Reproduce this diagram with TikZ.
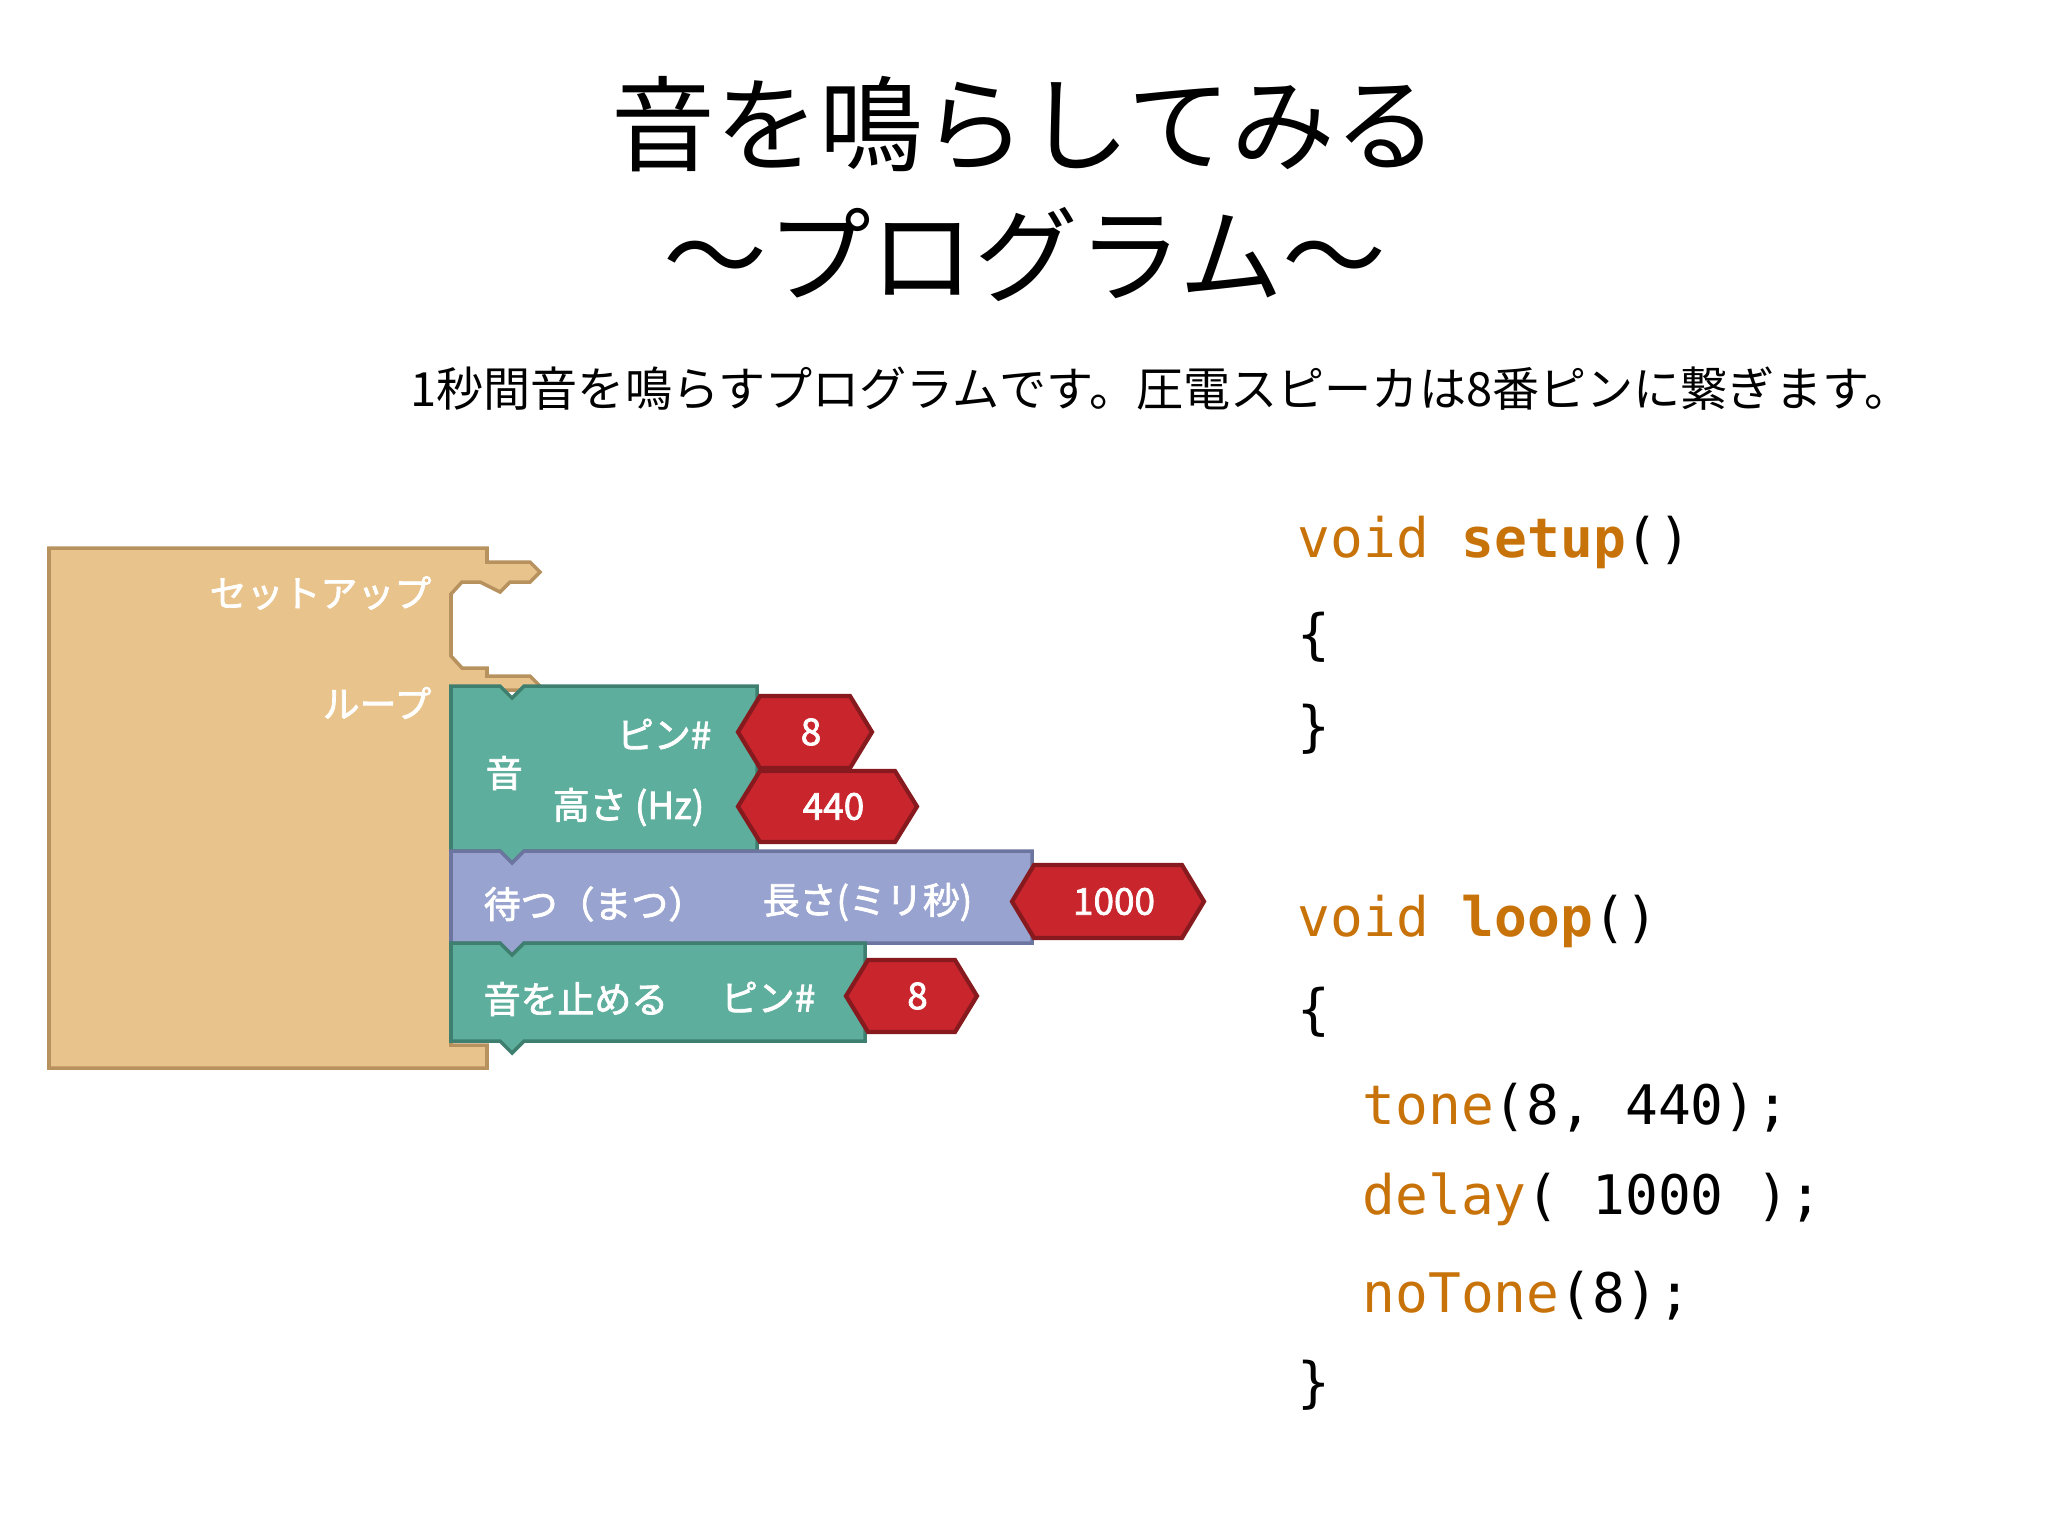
\documentclass[tikz,border=0pt]{standalone}
\usepackage{fontspec}
\setmainfont{Noto Sans CJK JP}
\newfontfamily\cjkbold{Noto Sans CJK JP}[FakeBold=2]
\newfontfamily\codefont{DejaVu Sans Mono}
\definecolor{blocktan}{HTML}{E9C38C}
\definecolor{tanedge}{HTML}{B8925E}
\definecolor{blockgreen}{HTML}{5DAE9C}
\definecolor{greenedge}{HTML}{3E7F70}
\definecolor{blockblue}{HTML}{99A3CF}
\definecolor{blueedge}{HTML}{6C75A0}
\definecolor{valred}{HTML}{C9252D}
\definecolor{rededge}{HTML}{861A1E}
\definecolor{codeorange}{HTML}{C8730A}
\tikzset{
	title/.style = {font=\fontsize{29.5}{29.5}\selectfont, anchor=center},
	note/.style = {font=\fontsize{13.4}{13.4}\selectfont, anchor=west},
	label/.style = {text=white, font=\cjkbold\fontsize{10.5}{10.5}\selectfont, inner sep=0pt},
	value/.style = {text=white, font=\cjkbold\fontsize{10.5}{10.5}\selectfont, inner sep=0pt},
	code/.style = {font=\codefont\fontsize{15.5}{15.5}\selectfont, anchor=west, inner sep=0pt},
	kw/.style = {text=codeorange}
}
\newcommand{\valhex}[6]{%
	\draw[fill=valred, draw=rededge, line width=1.2pt] (#2,{(#3+#5)/2}) -- (#2+22,#3) -- (#4-22,#3) -- (#4,{(#3+#5)/2}) -- (#4-22,#5) -- (#2+22,#5) -- cycle;
	\node[value] (#1) at ({(#2+#4)/2+6},{(#3+#5)/2}) {#6};}
\begin{document}
\begin{tikzpicture}[x=0.01cm, y=-0.01cm]
	\useasboundingbox (0,0) rectangle (2048,1536);

	\node[title] (line1) at (1025,124) {音を鳴らしてみる};
	\node[title] (line2) at (1025,255) {～プログラム～};
	\node[note] (intro) at (398,389) {1秒間音を鳴らすプログラムです。圧電スピーカは8番ピンに繋ぎます。};

	% setup / loop block
	\draw[fill=blocktan, draw=tanedge, line width=1pt]
		(49,548) -- (487,548) -- (487,562) -- (530,562) -- (540,572) -- (530,582) -- (510,582) -- (500,592) -- (480,582) -- (462,582) -- (451,594)
		-- (451,656) -- (462,668) -- (487,668) -- (487,676) -- (530,676) -- (540,686) -- (530,690) -- (451,690)
		-- (451,1045) -- (487,1045) -- (487,1068) -- (49,1068) -- cycle;
	\node[label, anchor=east] (setup) at (432,593) {セットアップ};
	\node[label, anchor=east] (loop) at (432,703) {ループ};

	% tone block
	\draw[fill=blockgreen, draw=greenedge, line width=1pt]
		(451,686) -- (500,686) -- (512,698) -- (524,686) -- (757,686) -- (757,851) -- (524,851) -- (512,863) -- (500,851) -- (451,851) -- cycle;
	\node[label, anchor=west] (tone) at (485,773) {音};
	\node[label, anchor=east] (pin1) at (712,734) {ピン\#};
	\node[label, anchor=east] (freq) at (705,807) {高さ (Hz)};
	\valhex{pinval1}{738}{696}{872}{768}{8}
	\valhex{freqval}{738}{771}{917}{842}{440}

	% delay block
	\draw[fill=blockblue, draw=blueedge, line width=1pt]
		(451,851) -- (500,851) -- (512,863) -- (524,851) -- (1032,851) -- (1032,943) -- (524,943) -- (512,955) -- (500,943) -- (451,943) -- cycle;
	\node[label, anchor=west] (wait) at (483,904) {待つ（まつ）};
	\node[label, anchor=east] (len) at (973,902) {長さ(ミリ秒)};
	\valhex{lenval}{1012}{865}{1204}{938}{1000}

	% noTone block
	\draw[fill=blockgreen, draw=greenedge, line width=1pt]
		(451,943) -- (500,943) -- (512,955) -- (524,943) -- (865,943) -- (865,1041) -- (524,1041) -- (512,1053) -- (500,1041) -- (451,1041) -- cycle;
	\node[label, anchor=west] (stop) at (483,999) {音を止める};
	\node[label, anchor=east] (pin2) at (816,997) {ピン\#};
	\valhex{pinval2}{846}{960}{977}{1032}{8}

	% code
	\node[code] (c1) at (1297,542) {\textcolor{codeorange}{void} \textcolor{codeorange}{\bfseries setup}()};
	\node[code] (c2) at (1297,637) {\{};
	\node[code] (c3) at (1297,729) {\}};
	\node[code] (c4) at (1297,921) {\textcolor{codeorange}{void} \textcolor{codeorange}{\bfseries loop}()};
	\node[code] (c5) at (1297,1012) {\{};
	\node[code] (c6) at (1362,1108) {\textcolor{codeorange}{tone}(8, 440);};
	\node[code] (c7) at (1362,1199) {\textcolor{codeorange}{delay}( 1000 );};
	\node[code] (c8) at (1362,1296) {\textcolor{codeorange}{noTone}(8);};
	\node[code] (c9) at (1297,1385) {\}};
\end{tikzpicture}
\end{document}
